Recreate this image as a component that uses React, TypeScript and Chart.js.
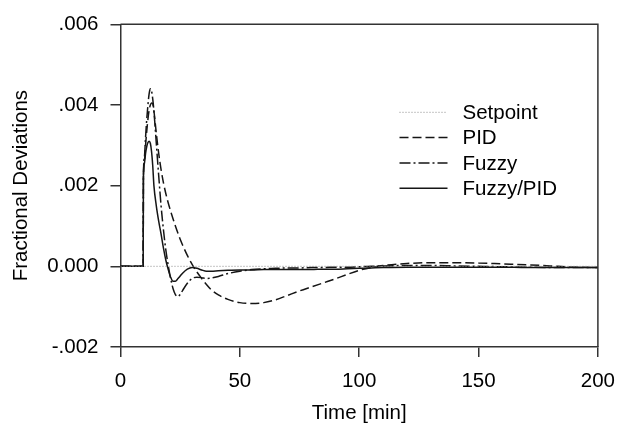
import React, { useEffect, useRef } from "react";
import { Chart, registerables } from "chart.js";

Chart.register(...registerables);

// Time axis (minutes)
const time = [
  0, 9.5, 9.6, 10, 10.5, 11, 11.5, 12, 12.5, 13, 13.5, 14, 15, 16, 17, 18, 19, 20,
  21, 22, 23, 24, 25, 26, 28, 30, 32, 34, 36, 38, 41, 45, 50, 55, 60, 65, 70, 75,
  80, 85, 90, 95, 100, 105, 110, 120, 130, 140, 150, 160, 170, 180, 190, 200,
];

const setpoint = time.map(() => 0);

const pid = [
  0, 0, 0.0022, 0.0026, 0.0030, 0.00335, 0.00365, 0.00387, 0.0040, 0.00405, 0.00403, 0.00385,
  0.0033, 0.0028, 0.0024, 0.00207, 0.0018, 0.00157, 0.00137, 0.00118, 0.0010, 0.00083,
  0.00067, 0.00053, 0.00027, 0.00005, -0.00014, -0.0003, -0.00045, -0.00058, -0.00071,
  -0.00082, -0.0009, -0.00092, -0.0009, -0.00083, -0.00072, -0.00061, -0.00051, -0.00041,
  -0.00031, -0.0002, -0.0001, -0.00003, 0.00002, 0.00007, 0.00009, 0.00009, 0.00008,
  0.00006, 0.00004, 0.00001, -0.00002, -0.00003,
];

const fuzzy = [
  0, 0, 0.0022, 0.0027, 0.0032, 0.00365, 0.0040, 0.00428, 0.0044, 0.00435, 0.00415, 0.00385,
  0.00305, 0.00225, 0.0015, 0.0009, 0.0004, 0.00002, -0.0003, -0.00055, -0.0007, -0.00075,
  -0.0007, -0.0006, -0.00042, -0.0003, -0.00027, -0.00028, -0.0003, -0.00029, -0.00025,
  -0.00018, -0.00012, -0.00008, -0.00006, -0.00005, -0.00004, -0.00004, -0.00003, -0.00003,
  -0.00002, -0.00002, -0.00001, 0.0, 0.00001, 0.00002, 0.00002, 0.00001, 0.0, -0.00001,
  -0.00002, -0.00003, -0.00003, -0.00003,
];

const fuzzyPid = [
  0, 0, 0.0022, 0.00255, 0.0028, 0.00297, 0.00307, 0.0031, 0.00305, 0.00285, 0.0025, 0.0020,
  0.0015, 0.00112, 0.0008, 0.00045, 0.00015, -0.00008, -0.00027, -0.00037, -0.00037, -0.00031,
  -0.00024, -0.00017, -0.00007, -0.00003, -0.00005, -0.00009, -0.00012, -0.00012, -0.00011,
  -0.0001, -0.00009, -0.00009, -0.00008, -0.00008, -0.00008, -0.00008, -0.00008, -0.00007,
  -0.00007, -0.00006, -0.00005, -0.00004, -0.00003, -0.00002, -0.00002, -0.00002, -0.00002,
  -0.00002, -0.00003, -0.00003, -0.00003, -0.00003,
];

const seriesLabels = ["Setpoint", "PID", "Fuzzy", "Fuzzy/PID"];
const xTicks = [0, 50, 100, 150, 200];
const yTicks = [-0.002, 0, 0.002, 0.004, 0.006];

const FONT = "'Liberation Sans', Arial, Helvetica, sans-serif";
const FS = 20.5;
const INK = "#151515";

function fmtY(v: number): string {
  const r = Math.round(v * 1000);
  if (r === 0) return "0.000";
  const s = "." + String(Math.abs(r)).padStart(3, "0");
  return r < 0 ? "-" + s : s;
}

const boxPlugin = {
  id: "box",
  afterDraw(chart: any) {
    const { ctx, chartArea: a } = chart;
    ctx.save();
    ctx.strokeStyle = "#333";
    ctx.lineWidth = 1.5;
    ctx.beginPath();
    ctx.moveTo(a.left, a.top);
    ctx.lineTo(a.right, a.top);
    ctx.lineTo(a.right, a.bottom);
    ctx.stroke();
    ctx.restore();
  },
};

const legendPlugin = {
  id: "innerLegend",
  afterDraw(chart: any) {
    const { ctx, chartArea: a } = chart;
    const x0 = a.left + 279;
    const x1 = x0 + 48;
    const tx = x1 + 15;
    const y0 = a.top + 88;
    const dy = 25.3;
    ctx.save();
    chart.data.datasets.forEach((ds: any, i: number) => {
      const y = y0 + i * dy;
      ctx.beginPath();
      ctx.setLineDash(ds.borderDash || []);
      ctx.strokeStyle = ds.borderColor;
      ctx.lineWidth = ds.borderWidth;
      ctx.moveTo(x0, y);
      ctx.lineTo(x1, y);
      ctx.stroke();
      ctx.setLineDash([]);
      ctx.fillStyle = "#000";
      ctx.font = `${FS}px ${FONT}`;
      ctx.textAlign = "left";
      ctx.textBaseline = "middle";
      ctx.fillText(ds.label, tx, y + 1);
    });
    ctx.restore();
  },
};

export default function App() {
  const ref = useRef<HTMLCanvasElement | null>(null);

  useEffect(() => {
    if (!ref.current) return;
    const mk = (vals: number[]) => time.map((t, i) => ({ x: t, y: vals[i] }));
    const chart = new Chart(ref.current, {
      type: "line",
      data: {
        datasets: [
          {
            label: seriesLabels[0],
            data: mk(setpoint),
            borderColor: "#8a8a8a",
            borderWidth: 1,
            borderDash: [1, 2],
            pointRadius: 0,
          },
          {
            label: seriesLabels[1],
            data: mk(pid),
            borderColor: INK,
            borderWidth: 1.5,
            borderDash: [9, 4],
            pointRadius: 0,
            cubicInterpolationMode: "monotone",
          },
          {
            label: seriesLabels[2],
            data: mk(fuzzy),
            borderColor: INK,
            borderWidth: 1.5,
            borderDash: [11, 3, 2, 3],
            pointRadius: 0,
            cubicInterpolationMode: "monotone",
          },
          {
            label: seriesLabels[3],
            data: mk(fuzzyPid),
            borderColor: INK,
            borderWidth: 1.5,
            borderDash: [],
            pointRadius: 0,
            cubicInterpolationMode: "monotone",
          },
        ],
      },
      options: {
        animation: false,
        responsive: false,
        maintainAspectRatio: false,
        layout: { padding: { left: 0, top: 17, right: 28, bottom: 0 } },
        plugins: { legend: { display: false }, tooltip: { enabled: false } },
        scales: {
          x: {
            type: "linear",
            min: 0,
            max: 200,
            afterBuildTicks: (s: any) => {
              s.ticks = xTicks.map((v) => ({ value: v }));
            },
            ticks: {
              color: "#000",
              font: { family: FONT, size: FS },
              padding: 12,
              maxRotation: 0,
            },
            grid: {
              drawOnChartArea: false,
              drawTicks: true,
              tickLength: 10,
              color: "#333",
              lineWidth: 1.5,
            },
            border: { color: "#333", width: 1.5 },
            title: {
              display: true,
              text: "Time [min]",
              color: "#000",
              font: { family: FONT, size: FS, lineHeight: 1 },
              padding: { top: 0, bottom: 3 },
            },
            afterFit: (s: any) => {
              s.height = 80;
            },
          },
          y: {
            type: "linear",
            min: -0.002,
            max: 0.006,
            afterBuildTicks: (s: any) => {
              s.ticks = yTicks.map((v) => ({ value: v }));
            },
            ticks: {
              color: "#000",
              font: { family: FONT, size: FS },
              padding: 12,
              callback: (v: any) => fmtY(Number(v)),
            },
            grid: {
              drawOnChartArea: false,
              drawTicks: true,
              tickLength: 10,
              color: "#333",
              lineWidth: 1.5,
            },
            border: { color: "#333", width: 1.5 },
            title: {
              display: true,
              text: "Fractional Deviations",
              color: "#000",
              font: { family: FONT, size: FS, lineHeight: 1 },
              padding: { top: 11, bottom: 0 },
            },
            afterFit: (s: any) => {
              s.width = 120.5;
            },
          },
        },
      },
      plugins: [boxPlugin, legendPlugin],
    });
    return () => chart.destroy();
  }, []);

  return (
    <div style={{ position: "fixed", left: 0, top: 0, width: 627, height: 427, background: "#fff" }}>
      <canvas ref={ref} width={627} height={427} style={{ display: "block" }} />
    </div>
  );
}
